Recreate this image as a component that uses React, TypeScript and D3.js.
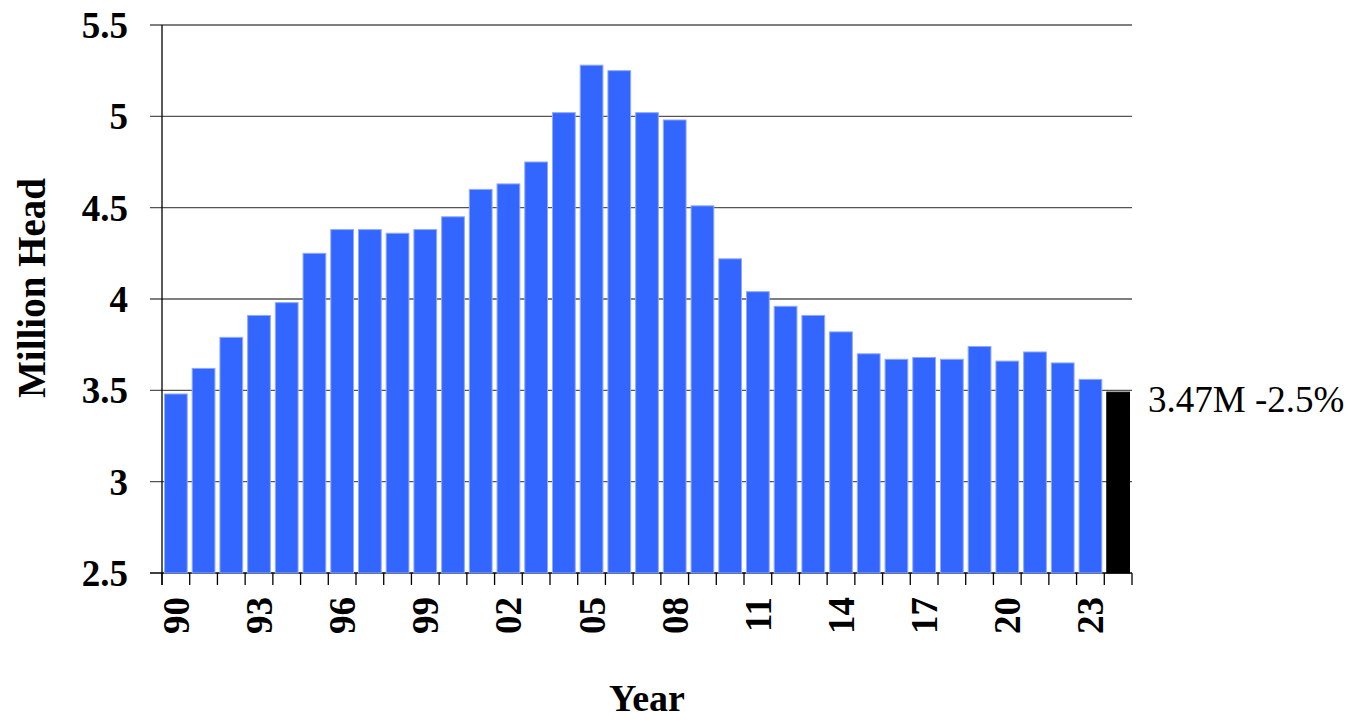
import React from "react";
import * as d3 from "d3";

const years: string[] = [
  "1990","1991","1992","1993","1994","1995","1996","1997","1998","1999",
  "2000","2001","2002","2003","2004","2005","2006","2007","2008","2009",
  "2010","2011","2012","2013","2014","2015","2016","2017","2018","2019",
  "2020","2021","2022","2023","2024",
];
const values: number[] = [
  3.48, 3.62, 3.79, 3.91, 3.98, 4.25, 4.38, 4.38, 4.36, 4.38,
  4.45, 4.60, 4.63, 4.75, 5.02, 5.28, 5.25, 5.02, 4.98, 4.51,
  4.22, 4.04, 3.96, 3.91, 3.82, 3.70, 3.67, 3.68, 3.67, 3.74,
  3.66, 3.71, 3.65, 3.56, 3.49,
];
const yTicks: number[] = [2.5, 3, 3.5, 4, 4.5, 5, 5.5];
const yTickLabels: string[] = ["2.5", "3", "3.5", "4", "4.5", "5", "5.5"];
const annotation = "3.47M -2.5%";

const W = 1355, H = 721;
const L = 162, R = 1132, T = 25, B = 573;
const FONT = "'Liberation Serif', 'Times New Roman', serif";

export default function App() {
  const x = d3.scaleBand<string>().domain(years).range([L, R]).paddingInner(0.18).paddingOuter(0.09);
  const y = d3.scaleLinear().domain([2.5, 5.5]).range([B, T]);
  const step = x.step();
  const boundaries = d3.range(years.length + 1).map((i) => L + i * step);
  const last = years.length - 1;

  return (
    <svg width={W} height={H} style={{ position: "absolute", left: 0, top: 0, background: "#fff" }}>
      {yTicks.map((t) => (
        <line key={"g" + t} x1={150} x2={R} y1={y(t)} y2={y(t)} stroke={t === 2.5 ? "#000" : "#555"} strokeWidth={1.3} />
      ))}
      {years.map((yr, i) => (
        <rect
          key={yr}
          x={x(yr)}
          y={y(values[i])}
          width={x.bandwidth()}
          height={B - y(values[i])}
          fill={i === last ? "#000" : "#3366FF"}
          stroke={i === last ? "#000" : "#8FA8FF"}
          strokeWidth={1}
        />
      ))}
      <line x1={L} x2={L} y1={T} y2={B + 12} stroke="#000" strokeWidth={1.3} />
      {boundaries.map((bx, i) => (
        <line key={"t" + i} x1={bx} x2={bx} y1={B} y2={B + 12} stroke="#000" strokeWidth={1.3} />
      ))}
      {yTicks.map((t, i) => (
        <text key={"yl" + t} x={128} y={y(t)} dy="0.35em" textAnchor="end" fontFamily={FONT} fontWeight="bold" fontSize={37} fill="#000">
          {yTickLabels[i]}
        </text>
      ))}
      {years.map((yr, i) =>
        i % 3 === 0 ? (
          <text
            key={"xl" + yr}
            transform={`translate(${(x(yr) as number) + x.bandwidth() / 2},${597}) rotate(-90)`}
            dy="0.35em"
            textAnchor="end"
            fontFamily={FONT}
            fontWeight="bold"
            fontSize={37}
            fill="#000"
          >
            {yr.slice(2)}
          </text>
        ) : null
      )}
      <text x={1148} y={412} fontFamily={FONT} fontSize={37} fill="#000">{annotation}</text>
      <text transform={`translate(45,${(T + B) / 2 - 11}) rotate(-90)`} textAnchor="middle" fontFamily={FONT} fontWeight="bold" fontSize={39} fill="#000">
        Million Head
      </text>
      <text x={(L + R) / 2} y={711} textAnchor="middle" fontFamily={FONT} fontWeight="bold" fontSize={38} fill="#000">
        Year
      </text>
    </svg>
  );
}
